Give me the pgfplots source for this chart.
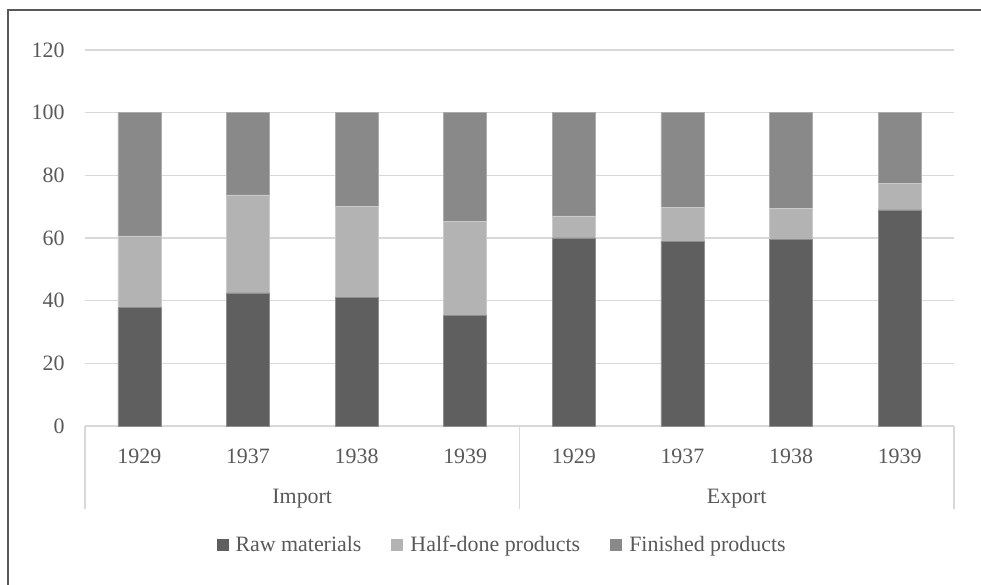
\documentclass[border=0pt]{standalone}
\usepackage{fontspec}
\setmainfont{Liberation Serif}
\usepackage{pgfplots}
\pgfplotsset{compat=1.18}
\definecolor{rawc}{HTML}{5F5F5F}
\definecolor{halfc}{HTML}{B3B3B3}
\definecolor{finc}{HTML}{898989}
\definecolor{gridc}{HTML}{D9D9D9}
\definecolor{txtc}{HTML}{595959}
\begin{document}
\begin{tikzpicture}
\useasboundingbox (-85bp,-159bp) rectangle (896bp,426bp);
\begin{axis}[
  at={(0,0)}, anchor=south west,
  scale only axis, width=869bp, height=376bp,
  ybar stacked, bar width=43bp,
  xmin=-0.5, xmax=7.5, ymin=0, ymax=120,
  ytick={0,20,...,120},
  xtick={0,...,7},
  xticklabels={1929,1937,1938,1939,1929,1937,1938,1939},
  axis line style={draw=none},
  tick style={draw=none},
  ymajorgrids, grid style={gridc, line width=1.3bp},
  font=\fontsize{22}{26}\selectfont,
  tick label style={text=txtc, font=\fontsize{22}{26}\selectfont},
  /pgf/number format/assume math mode=true,
  yticklabel style={anchor=east, xshift=-17bp},
  xticklabel style={anchor=center, yshift=-30bp},
  clip=false,
  legend style={at={(0.48,-0.316)}, anchor=center, draw=none, legend columns=-1,
    font=\fontsize{22}{26}\selectfont, text=txtc,
    /tikz/every even column/.append style={column sep=28bp}},
  legend image code/.code={\fill[#1,draw=none] (0bp,-6bp) rectangle (12bp,6bp); \path[draw=none,fill=none] (0bp,0bp) -- (17bp,0bp);},
]
\addplot[fill=rawc, draw=rawc!70!white, line width=0.5bp] coordinates {(0,37.8) (1,42.5) (2,41.1) (3,35.2) (4,60.0) (5,59.0) (6,59.6) (7,69.0)};
\addplot[fill=halfc, draw=halfc!70!white, line width=0.5bp] coordinates {(0,22.9) (1,31.3) (2,28.9) (3,30.2) (4,7.1) (5,10.8) (6,9.9) (7,8.4)};
\addplot[fill=finc, draw=finc!70!white, line width=0.5bp] coordinates {(0,39.3) (1,26.2) (2,30.0) (3,34.6) (4,32.9) (5,30.2) (6,30.5) (7,22.6)};
\legend{Raw materials, Half-done products, Finished products}
\draw[gridc, line width=1.3bp] (axis cs:-0.5,0) -- (axis cs:7.5,0);
\draw[gridc, line width=1.3bp] (axis cs:-0.5,0) -- ([yshift=-83bp]axis cs:-0.5,0);
\draw[gridc, line width=1.3bp] (axis cs:3.5,0) -- ([yshift=-83bp]axis cs:3.5,0);
\draw[gridc, line width=1.3bp] (axis cs:7.5,0) -- ([yshift=-83bp]axis cs:7.5,0);
\node[text=txtc, font=\fontsize{22}{26}\selectfont] at ([yshift=-73bp]axis cs:1.5,0) {Import};
\node[text=txtc, font=\fontsize{22}{26}\selectfont] at ([yshift=-73bp]axis cs:5.5,0) {Export};
\end{axis}
\draw[txtc, line width=1.3bp] (-77bp,-159bp) -- (-77bp,416bp) -- (896bp,416bp);
\end{tikzpicture}
\end{document}
